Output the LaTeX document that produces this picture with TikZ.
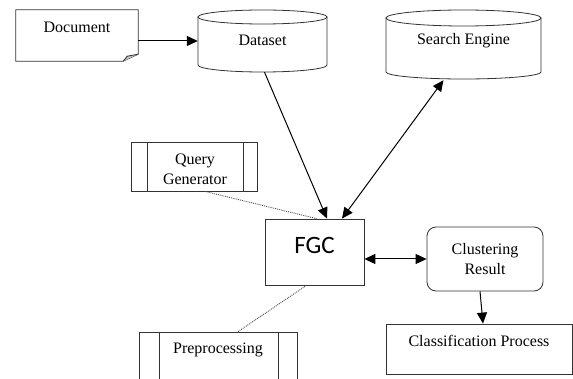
\documentclass[tikz,border=0pt]{standalone}
\usepackage{fontspec}
\setmainfont{Liberation Serif}
\newfontfamily\fgcfont{Carlito}
\usetikzlibrary{arrows.meta,calc}
\begin{document}
\begin{tikzpicture}[x=1pt,y=1pt,
  every node/.style={font=\fontsize{16}{20}\selectfont},
  outline/.style={draw=black!80,line width=0.8pt},
  frame/.style={outline,rectangle,inner sep=0pt},
  holder/.style={rectangle,inner sep=0pt},
  tip/.style={Triangle[length=11pt,width=10pt]},
  link/.style={line width=1pt,-{Triangle[length=11pt,width=10pt]}},
  twoway/.style={line width=1pt,{Triangle[length=11pt,width=10pt]}-{Triangle[length=11pt,width=10pt]}},
  faint/.style={draw=black!70,line width=0.9pt,densely dotted}]
\clip (0,0) rectangle (573,-379);
\fill[white] (0,0) rectangle (573,-379);

% document with folded corner
\node[holder,minimum width=122,minimum height=51] (doc) at (77,-35.5) {};
\draw[outline] (doc.north west) -- (doc.north east) -- ($(doc.south east)+(0,7)$)
  -- ($(doc.south east)+(-15,0)$) -- (doc.south west) -- cycle;
\draw[outline,fill=black!25] ($(doc.south east)+(-15,0)$) -- ($(doc.south east)+(-11,5)$) -- ($(doc.south east)+(0,7)$);
\node (docL) at (77,-27) {Document};

% dataset cylinder
\node[holder,minimum width=129,minimum height=62] (ds) at (262.5,-41) {};
\draw[outline] (262.5,-17) ellipse [x radius=64.5,y radius=7];
\draw[outline] (198,-17) -- (198,-65) arc[start angle=180,end angle=360,x radius=64.5,y radius=7] -- (327,-17);
\node (dsL) at (262.5,-40) {Dataset};

% search engine cylinder
\node[holder,minimum width=155,minimum height=70] (se) at (463.5,-44) {};
\draw[outline] (463.5,-18) ellipse [x radius=77.5,y radius=8];
\draw[outline] (386,-18) -- (386,-72) arc[start angle=180,end angle=360,x radius=77.5,y radius=7] -- (541,-18);
\node (seL) at (463.5,-41) {Search Engine};

% query generator
\node[frame,minimum width=126,minimum height=49,align=center] (qg) at (194,-166.5) {};
\draw[outline] (147,-142) -- (147,-191) (243,-142) -- (243,-191);
\node[align=center] (qgL) at (195,-169) {Query\\Generator};

% FGC
\node[frame,minimum width=99,minimum height=66] (fgc) at (314.5,-252) {};
\node[font=\fgcfont\fontsize{25}{28}\selectfont] (fgcL) at (314.5,-245) {FGC};

% clustering result
\node[frame,rounded corners=9pt,minimum width=116,minimum height=64,align=center] (cl) at (485,-259) {Clustering\\Result};

% classification process
\node[frame,minimum width=186,minimum height=50] (cp) at (479,-349) {};
\node (cpL) at (479,-341) {Classification Process};

% preprocessing
\node[frame,minimum width=158,minimum height=70] (pp) at (218,-367) {};
\draw[outline] (159,-332) -- (159,-402) (278,-332) -- (278,-402);
\node (ppL) at (218,-350) {Preprocessing};

% connectors
\draw[link] (doc.east |- ds.west) -- (ds.west);
\draw[link] ($(ds.south)+(2,0)$) -- ($(fgc.north)+(12.5,0)$);
\draw[twoway] ($(fgc.north)+(27.5,0)$) -- ($(se.south)+(-20,-1)$);
\draw[twoway] (fgc.east |- cl.west) -- (cl.west);
\draw[link] ($(cl.south)+(-5,0)$) -- ($(cp.north)+(4,0)$);
\draw[faint] ($(qg.south)+(11,0)$) -- ($(fgc.north)+(2,0)$);
\draw[faint] ($(fgc.south)+(-8,0)$) -- ($(pp.north)+(20,0)$);
\end{tikzpicture}
\end{document}
